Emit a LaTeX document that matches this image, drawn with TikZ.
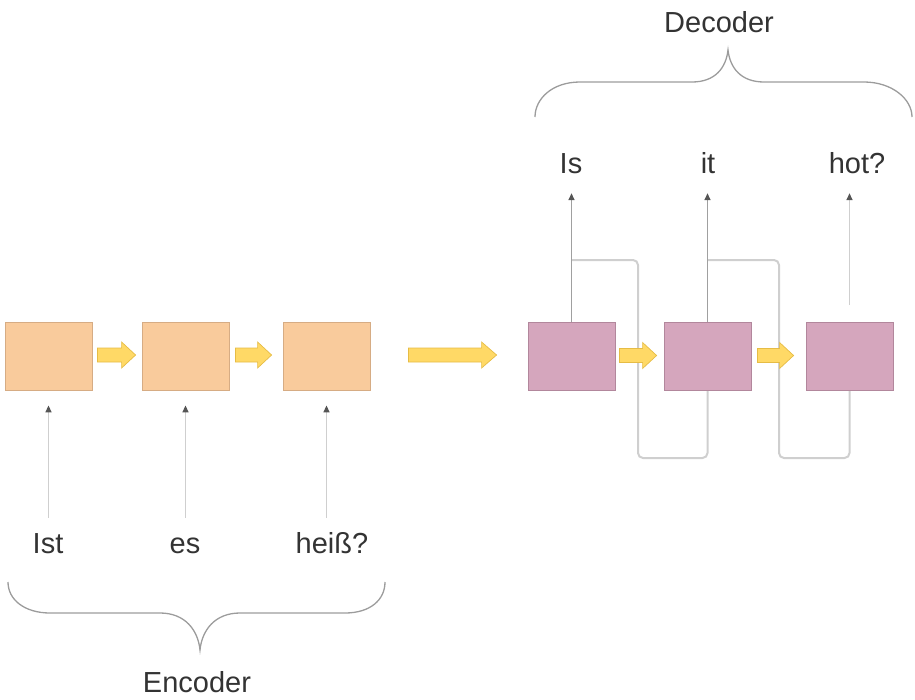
\documentclass[tikz,border=0pt]{standalone}
\usepackage{fontspec}
\setmainfont{Liberation Sans}
\usetikzlibrary{arrows.meta,calc,backgrounds}
\definecolor{encfill}{HTML}{F9CB9C}
\definecolor{encline}{HTML}{D6AC84}
\definecolor{decfill}{HTML}{D5A6BD}
\definecolor{decline}{HTML}{B2879C}
\definecolor{yfill}{HTML}{FFD966}
\definecolor{yline}{HTML}{E6BC45}
\definecolor{txt}{HTML}{333333}
\definecolor{darkline}{HTML}{A0A0A0}
\definecolor{lightline}{HTML}{CFCFCF}
\definecolor{tipcol}{HTML}{555555}
\definecolor{bracecol}{HTML}{9C9C9C}
\newcommand\yarrow[3]{%
  \filldraw[yarrowstyle] let \p1=(#1),\p2=(#2) in
    (\x1,\y1+7pt) -- (\x2-#3,\y1+7pt) -- (\x2-#3,\y1+13pt) -- (\x2,\y1)
    -- (\x2-#3,\y1-13pt) -- (\x2-#3,\y1-7pt) -- (\x1,\y1-7pt) -- cycle;}
\begin{document}
\begin{tikzpicture}[x=1pt,y=-1pt,
  enc/.style={draw=encline,fill=encfill,line width=0.8pt,minimum width=87pt,minimum height=68pt,inner sep=0pt},
  dec/.style={draw=decline,fill=decfill,line width=0.8pt,minimum width=87pt,minimum height=68pt,inner sep=0pt},
  word/.style={font=\fontsize{29}{34}\selectfont,text=txt,text height=21pt,text depth=0pt,inner sep=2pt,anchor=base},
  inarrow/.style={draw=lightline,line width=1.5pt,-{Triangle[length=7pt,width=6pt,color=tipcol]}},
  outarrow/.style={draw=darkline,line width=1.5pt,-{Triangle[length=7pt,width=6pt,color=tipcol]}},
  feedback/.style={draw=lightline,line width=2pt,rounded corners=5pt},
  bracestyle/.style={draw=bracecol,line width=1.3pt},
  yarrowstyle/.style={fill=yfill,draw=yline,line width=0.7pt,line join=miter}
]
\useasboundingbox (0,0) rectangle (915,699);

% boxes
\node[enc] (e1) at (48.5,356) {};
\node[enc] (e2) at (185.5,356) {};
\node[enc] (e3) at (326.5,356) {};
\node[dec] (d1) at (571.5,356.5) {};
\node[dec] (d2) at (707.5,356.5) {};
\node[dec] (d3) at (849.5,356.5) {};

% words
\node[word] (wist) at (48,553) {Ist};
\node[word] (wes) at (185,553) {es};
\node[word] (wheiss) at (332,553) {heiß?};
\node[word] (wis) at (571,173) {Is};
\node[word] (wit) at (708,173) {it};
\node[word] (whot) at (857,173) {hot?};
\node[word] (enclabel) at (197,692) {Encoder};
\node[word] (declabel) at (719,32) {Decoder};

% feedback coordinates
\coordinate (b1) at (571.5,260);
\coordinate (f1) at (638,458);
\coordinate (b2) at (707.5,260);
\coordinate (f2) at (779,458);

% feedback lines, behind the boxes
\begin{pgfonlayer}{background}
\draw[feedback] (b1) -| (f1) -| (d2.south);
\draw[feedback] (b2) -| (f2) -| (d3.south);
\end{pgfonlayer}

% output arrows
\draw[outarrow,shorten >=18pt] (d1.north) -- (d1.north |- wis.south);
\draw[outarrow,shorten >=18pt] (d2.north) -- (d2.north |- wit.south);
\draw[inarrow,shorten <=17pt,shorten >=18pt] (d3.north) -- (d3.north |- whot.south);

% input arrows
\draw[inarrow,shorten <=12pt,shorten >=15pt] (e1.south |- wist.north) -- (e1.south);
\draw[inarrow,shorten <=12pt,shorten >=15pt] (e2.south |- wes.north) -- (e2.south);
\draw[inarrow,shorten <=12pt,shorten >=15pt] (e3.south |- wheiss.north) -- (e3.south);

% yellow block arrows
\yarrow{$(e1.east)+(5,-1)$}{$(e2.west)+(-6,-1)$}{14pt}
\yarrow{$(e2.east)+(6,-1)$}{$(e3.west)+(-11,-1)$}{14pt}
\yarrow{$(e3.east)+(38,-1)$}{$(d1.west)+(-31,-1)$}{15pt}
\yarrow{$(d1.east)+(4,-1)$}{$(d2.west)+(-7,-1)$}{14pt}
\yarrow{$(d2.east)+(6,-1)$}{$(d3.west)+(-12,-1)$}{14pt}

% braces
\draw[bracestyle] (8,582) .. controls (8,600) and (25,613) .. (50,613) -- (160,613)
  .. controls (185,613) and (198,630) .. (200,650)
  .. controls (202,630) and (215,613) .. (240,613) -- (345,613)
  .. controls (370,613) and (385,600) .. (385,582);
\draw[bracestyle] (535,117) .. controls (535,99) and (552,82) .. (580,82) -- (692,82)
  .. controls (715,82) and (726,68) .. (728,50)
  .. controls (730,68) and (741,82) .. (764,82) -- (864,82)
  .. controls (892,82) and (912,99) .. (912,117);
\end{tikzpicture}
\end{document}
